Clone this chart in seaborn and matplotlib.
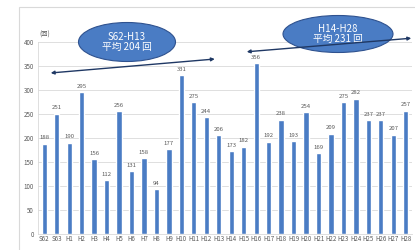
import pandas as pd
import matplotlib
matplotlib.use("Agg")
import matplotlib.pyplot as plt
import seaborn as sns
from matplotlib.patches import Ellipse, Rectangle

# data
years = ["S62", "S63"] + [f"H{i}" for i in range(1, 29)]
counts = [188, 251, 190, 295, 156, 112, 256, 131, 158, 94, 177, 331, 275, 244, 206,
          173, 182, 356, 192, 238, 193, 254, 169, 209, 275, 282, 237, 237, 207, 257]
period_labels = ["S62-H13\n平均 204 回", "H14-H28\n平均 231 回"]
y_ticks = [0, 50, 100, 150, 200, 250, 300, 350, 400]

sns.set_theme(style="white")
plt.rcParams['font.family'] = ['Noto Sans CJK JP', 'DejaVu Sans']

df = pd.DataFrame({"year": years, "count": counts})

fig = plt.figure(figsize=(4.15, 2.5), dpi=100)
# outer chart border (cut off at right/bottom like the screenshot)
fig.patches.append(Rectangle((19 / 415, -0.1), 1.2, 1.1 - 7 / 250, transform=fig.transFigure,
                             fill=False, edgecolor="#d9d9d9", linewidth=0.8))

ax = fig.add_axes([38 / 415, 16 / 250, 374 / 415, 192 / 250])
sns.barplot(data=df, x="year", y="count", color="#4a7cc4", width=0.42,
            saturation=1, ax=ax)

ax.set_xlim(-0.5, len(years) - 0.5)
ax.set_ylim(0, 400)
ax.set_yticks(y_ticks)
ax.set_yticklabels([str(t) for t in y_ticks], fontsize=4.5, color="#595959")
ax.tick_params(axis="x", labelsize=4.4, colors="#595959", pad=1, length=0)
ax.tick_params(axis="y", pad=3, length=0)
ax.set_xlabel("")
ax.set_ylabel("")
ax.grid(axis="y", color="#d9d9d9", linewidth=0.6)
ax.set_axisbelow(True)
for s in ["top", "right"]:
    ax.spines[s].set_visible(False)
ax.spines["left"].set_color("#d9d9d9")
ax.spines["bottom"].set_color("#d9d9d9")
ax.spines["left"].set_linewidth(0.6)
ax.spines["bottom"].set_linewidth(0.6)

for i, v in enumerate(counts):
    ax.text(i, v + 7, str(v), ha="center", va="bottom", fontsize=4.3, color="#595959")

ax.text(0.005, 1.02, "(回)", transform=ax.transAxes, fontsize=4.5, color="#595959",
        ha="left", va="bottom")

# period arrows
arrow = dict(arrowstyle="<|-|>", color="#1f3864", lw=1.0, mutation_scale=5)
ax.annotate("", xy=(13.9, 365), xytext=(0.3, 335), arrowprops=arrow, annotation_clip=False)

# ellipses with period averages
e1 = Ellipse((127 / 415, 1 - 42 / 250), 97 / 415, 39 / 250, transform=fig.transFigure,
             facecolor="#4a7cc4", edgecolor="#2f528f", linewidth=0.8, zorder=5)
e2 = Ellipse((338 / 415, 1 - 34 / 250), 110 / 415, 37 / 250, transform=fig.transFigure,
             facecolor="#4a7cc4", edgecolor="#2f528f", linewidth=0.8, zorder=5)
fig.patches.extend([e1, e2])
fig.text(127 / 415, 1 - 42 / 250, period_labels[0], ha="center", va="center",
         fontsize=7, color="white", linespacing=1.0, zorder=6)
fig.text(338 / 415, 1 - 34 / 250, period_labels[1], ha="center", va="center",
         fontsize=7, color="white", linespacing=1.0, zorder=6)

fig.add_artist(matplotlib.patches.FancyArrowPatch(
    (244 / 415, 1 - 52 / 250), (414 / 415, 1 - 38 / 250), transform=fig.transFigure,
    arrowstyle="<|-|>", color="#1f3864", lw=1.0, mutation_scale=5, zorder=7))

fig.savefig("out.png", dpi=100)
